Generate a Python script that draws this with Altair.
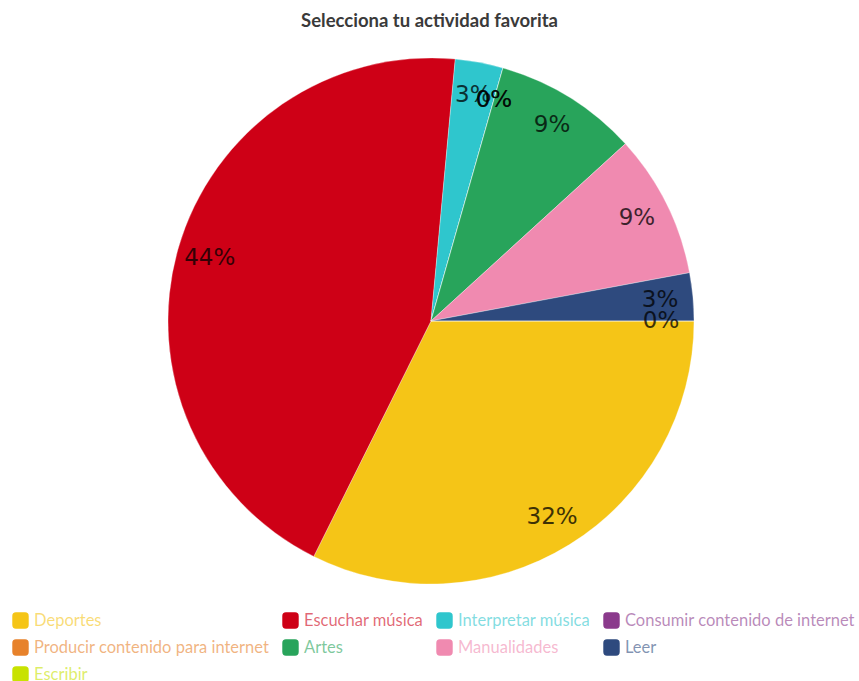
import math
import altair as alt
import pandas as pd

categories = ["Deportes", "Escuchar música", "Interpretar música",
              "Consumir contenido de internet", "Producir contenido para internet",
              "Artes", "Manualidades", "Leer", "Escribir"]
counts = [11, 15, 1, 0, 0, 3, 3, 1, 0]
colors = ["#F5C517", "#CE0016", "#2FC6CD", "#8B3A8C", "#E7822B",
          "#28A45B", "#F08AB0", "#2E4A7E", "#C8E200"]

total = sum(counts)
df = pd.DataFrame({
    "cat": categories,
    "count": counts,
    "idx": list(range(len(categories))),
    "pct": [f"{round(c / total * 100)}%" for c in counts],
})

CX, CY = 431, 281
R = 263

theta_scale = alt.Scale(range=[math.pi / 2, math.pi / 2 + 2 * math.pi])

rounded_sq = ("M-1,-0.55 Q-1,-1 -0.55,-1 L0.55,-1 Q1,-1 1,-0.55 L1,0.55 "
              "Q1,1 0.55,1 L-0.55,1 Q-1,1 -1,0.55 Z")

base = alt.Chart(df)

arcs = base.mark_arc(outerRadius=R, stroke="white", strokeWidth=0.3).encode(
    theta=alt.Theta("count:Q", stack=True, scale=theta_scale),
    order=alt.Order("idx:Q"),
    x=alt.value(CX),
    y=alt.value(CY),
    color=alt.Color(
        "cat:N",
        scale=alt.Scale(domain=categories, range=colors),
        sort=categories,
        legend=alt.Legend(
            title=None,
            orient="none",
            legendX=12,
            legendY=572,
            direction="horizontal",
            columns=4,
            columnPadding=12,
            rowPadding=10,
            symbolType=rounded_sq,
            symbolSize=270,
            symbolStrokeWidth=0,
            symbolOpacity=1,
            labelFont="Lato",
            labelFontSize=16.5,
            labelOffset=5,
            labelOpacity=0.6,
            labelColor={"expr": "scale('color', datum.value)"},
            labelLimit=400,
        ),
    ),
)

labels = base.mark_text(radius=230, font="DejaVu Sans", fontSize=23,
                        color="black", opacity=0.75).encode(
    theta=alt.Theta("count:Q", stack=True, scale=theta_scale),
    order=alt.Order("idx:Q"),
    x=alt.value(CX),
    y=alt.value(CY),
    text="pct:N",
)

chart = alt.layer(arcs, labels).properties(
    width=859,
    height=641,
    padding={"left": 0, "right": 0, "top": 40, "bottom": 0},
    autosize=alt.AutoSizeParams(type="none"),
    title=alt.TitleParams(
        "Selecciona tu actividad favorita",
        font="Lato", fontSize=18.5, fontWeight="bold", color="#3a3a3a",
        anchor="middle", offset=10,
    ),
).configure_view(stroke=None)

chart.save("out.html", embed_options={"renderer": "svg", "actions": False})
